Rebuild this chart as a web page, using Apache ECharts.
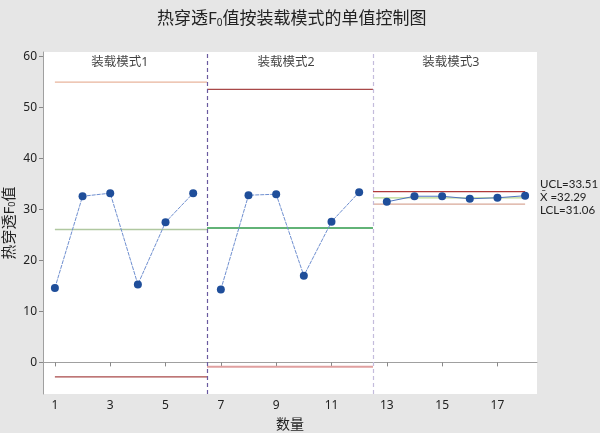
<!DOCTYPE html>
<html><head><meta charset="utf-8">
<script src="https://cdn.jsdelivr.net/npm/echarts@6/dist/echarts.min.js"></script>
<style>html,body{margin:0;padding:0;background:#e6e6e6}#c{width:600px;height:433px}</style>
</head><body><div id="c"></div>
<script>
const FONT = '"Noto Sans","Noto Sans CJK SC",sans-serif';
const modeNames = ['装载模式1','装载模式2','装载模式3'];
const xMode1 = [1,2,3,4,5,6];
const yMode1 = [14.6,32.6,33.2,15.3,27.5,33.2];
const xMode2 = [7,8,9,10,11,12];
const yMode2 = [14.3,32.8,33.0,17.0,27.6,33.4];
const xMode3 = [13,14,15,16,17,18];
const yMode3 = [31.5,32.6,32.6,32.1,32.3,32.7];
// control limits per mode: [UCL, CL, LCL], segment spans
const limits1 = [54.98,26.07,-2.85];
const limits2 = [53.55,26.35,-0.85];
const limits3 = [33.51,32.29,31.06];
const span1 = [1,6.5], span2 = [6.5,12.5], span3 = [12.5,18];
const dividers = [6.5,12.5];
const labelPos = [[3.35,58.9],[9.36,58.9],[15.31,58.9]];
const yTicks = [0,10,20,30,40,50,60];
const xTicks = [1,3,5,7,9,11,13,15,17];
const limitText = ['UCL=33.51','X\u0304 =32.29','LCL=31.06'];

const pts = (xs,ys)=>xs.map((x,i)=>[x,ys[i]]);
function dataSeries(xs,ys,dash){
  return {type:'line',data:pts(xs,ys),symbol:'circle',symbolSize:8,z:5,
    itemStyle:{color:'#1f4e9a'},lineStyle:{color:dash?'#6f8fd0':'#4f74c0',width:1,type:dash?[4,1]:'solid'}};
}
function limSeries(span,v,color,w){
  return {type:'line',data:[[span[0],v],[span[1],v]],symbol:'none',silent:true,z:3,
    lineStyle:{color:color,width:w||1.3}};
}
const series = [
  limSeries(span1,limits1[0],'#e8b49c'),
  limSeries(span1,limits1[1],'#b0c8a0'),
  limSeries(span1,limits1[2],'#a84848'),
  limSeries(span2,limits2[0],'#a84848'),
  limSeries(span2,limits2[1],'#2e9a4a',1.5),
  limSeries(span2,limits2[2],'#e0a0a0',2),
  limSeries(span3,limits3[0],'#b03a3a'),
  limSeries(span3,limits3[1],'#b8d890'),
  limSeries(span3,limits3[2],'#d8a898'),
  dataSeries(xMode1,yMode1,true),
  dataSeries(xMode2,yMode2,true),
  dataSeries(xMode3,yMode3,false),
  {type:'scatter',symbolSize:0,silent:true,
    data:labelPos.map((p,i)=>({value:p,name:modeNames[i]})),
    label:{show:true,position:'inside',formatter:'{b}',color:'#111',fontSize:12.5,fontFamily:FONT},
    markLine:{silent:true,symbol:'none',label:{show:false},
      data:[{xAxis:dividers[0],lineStyle:{color:'#6a5aa0',type:[4,3],width:1.2}},
            {xAxis:dividers[1],lineStyle:{color:'#c4bcdc',type:[4,3],width:1.2}}]}}
];
const chart = echarts.init(document.getElementById('c'),null,{renderer:'canvas'});
chart.setOption({
  backgroundColor:'#e6e6e6',
  animation:false,
  title:{text:'热穿透F{s|0}值按装载模式的单值控制图',left:152,top:5,
    textStyle:{fontSize:17,fontWeight:'normal',color:'#222',fontFamily:FONT,
      rich:{s:{fontSize:10,verticalAlign:'bottom',padding:[8,0,0,0],color:'#222',fontFamily:FONT}}}},
  grid:{left:43,top:52,right:63,bottom:39,show:true,backgroundColor:'#fff',borderWidth:0,
    outerBoundsMode:'none',containLabel:false},
  xAxis:{type:'value',min:0.57,max:18.43,name:'数量',nameLocation:'middle',nameGap:24,
    nameMoveOverlap:false,
    nameTextStyle:{fontSize:14,color:'#222',fontFamily:FONT},
    splitLine:{show:false},
    axisLine:{show:true,lineStyle:{color:'#a0a0a0'}},
    axisTick:{show:true,customValues:xTicks,length:4,lineStyle:{color:'#888'}},
    axisLabel:{customValues:xTicks,color:'#222',fontSize:12,fontFamily:FONT,margin:6}},
  yAxis:{type:'value',min:-6.2,max:60.9,name:'热穿透F{s|0}值',nameLocation:'middle',nameGap:26,
    nameMoveOverlap:false,
    nameTextStyle:{fontSize:15,color:'#222',fontFamily:FONT,
      rich:{s:{fontSize:9,verticalAlign:'bottom',padding:[6,0,0,0],color:'#222'}}},
    splitLine:{show:false},
    axisLine:{show:true,lineStyle:{color:'#a0a0a0'}},
    axisTick:{show:true,customValues:yTicks,length:4,lineStyle:{color:'#888'}},
    axisLabel:{customValues:yTicks,color:'#222',fontSize:12,fontFamily:FONT,margin:6}},
  graphic:limitText.map((t,i)=>({type:'text',left:540,top:178+i*13,
    style:{text:t,font:'11.5px Lato, "Liberation Sans", sans-serif',fill:'#222'}})),
  series:series
});
</script></body></html>
